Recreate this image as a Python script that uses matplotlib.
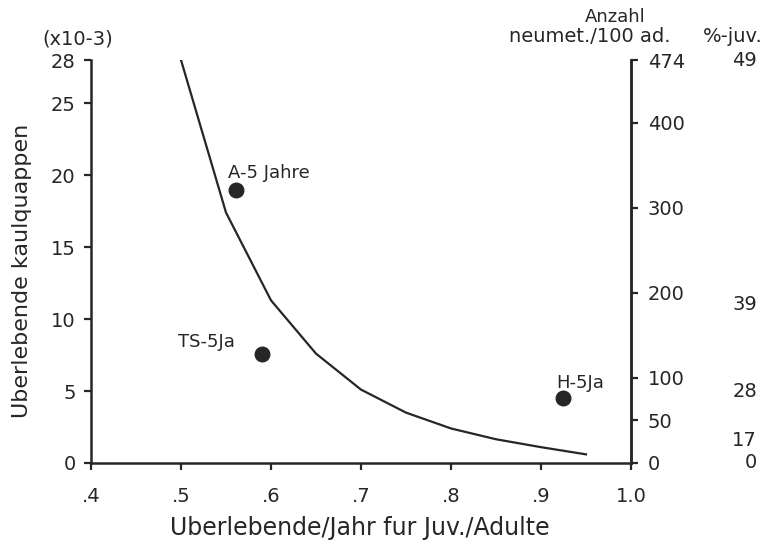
import matplotlib
matplotlib.use("Agg")
import matplotlib.pyplot as plt

# data
curve_x = [0.50, 0.55, 0.60, 0.65, 0.70, 0.75, 0.80, 0.85, 0.90, 0.95]
curve_y = [28.0, 17.4, 11.3, 7.6, 5.1, 3.5, 2.4, 1.65, 1.1, 0.6]
pt_labels = ["A-5 Jahre", "TS-5Ja", "H-5Ja"]
pt_x = [0.561, 0.590, 0.924]
pt_y = [19.0, 7.6, 4.5]
xticks = [0.4, 0.5, 0.6, 0.7, 0.8, 0.9, 1.0]
xticklabels = [".4", ".5", ".6", ".7", ".8", ".9", "1.0"]
yticks = [0, 5, 10, 15, 20, 25, 28]
rticks = [0, 50, 100, 200, 300, 400, 474]
juv_pos = [0, 26, 84, 186, 474]
juv_labels = ["0", "17", "28", "39", "49"]

C = "#262626"
plt.rcParams['font.family'] = ['DejaVu Sans']
W, H = 765, 552
fig = plt.figure(figsize=(W/100, H/100), dpi=100)
ax = fig.add_axes([91/W, 1-463/H, 540/W, 403/H])

ax.plot(curve_x, curve_y, color=C, lw=1.6)
ax.scatter(pt_x, pt_y, s=110, color=C, zorder=3)
lab_pos = [(0.552, 20.15), (0.497, 8.41), (0.917, 5.56)]
for lab, (lx, ly) in zip(pt_labels, lab_pos):
    ax.text(lx, ly, lab, fontsize=13, color=C, ha='left', va='center')

ax.set_xlim(0.4, 1.0)
ax.set_ylim(0, 28)
ax.set_xticks(xticks)
ax.set_xticklabels(xticklabels)
ax.set_yticks(yticks)
ax.tick_params(axis='y', colors=C, labelsize=14, direction='out', length=5, width=1.6, pad=6)
ax.tick_params(axis='x', colors=C, labelsize=14, direction='out', length=5, width=1.6, pad=12)
ax.spines['top'].set_visible(False)
for s in ['left', 'bottom', 'right']:
    ax.spines[s].set_color(C)
    ax.spines[s].set_linewidth(1.8)

ax2 = ax.twinx()
ax2.set_ylim(0, 474)
ax2.set_yticks(rticks)
ax2.tick_params(axis='y', colors=C, labelsize=14, direction='out', length=5, width=1.6, pad=7)
for s in ['top', 'left', 'bottom']:
    ax2.spines[s].set_visible(False)
ax2.spines['right'].set_color(C)
ax2.spines['right'].set_linewidth(1.8)

xr = (757 - 91) / 540
for p, l in zip(juv_pos, juv_labels):
    ax2.text(xr, p, l, transform=ax2.get_yaxis_transform(), fontsize=14,
             color=C, ha='right', va='center')

fig.text(360/W, 1-528/H, "Uberlebende/Jahr fur Juv./Adulte", fontsize=17,
         color=C, ha='center', va='center')
fig.text(22/W, 1-271/H, "Uberlebende kaulquappen", fontsize=16, color=C,
         ha='center', va='center', rotation=90)

fig.text(78/W, 1-39/H, "(x10-3)", fontsize=14, color=C, ha='center', va='center')
fig.text(615/W, 1-17/H, "Anzahl", fontsize=13, color=C, ha='center', va='center')
fig.text(590/W, 1-36/H, "neumet./100 ad.", fontsize=14, color=C, ha='center', va='center')
fig.text(763/W, 1-36/H, "%-juv.", fontsize=14, color=C, ha='right', va='center')

fig.savefig("out.png", dpi=100)
